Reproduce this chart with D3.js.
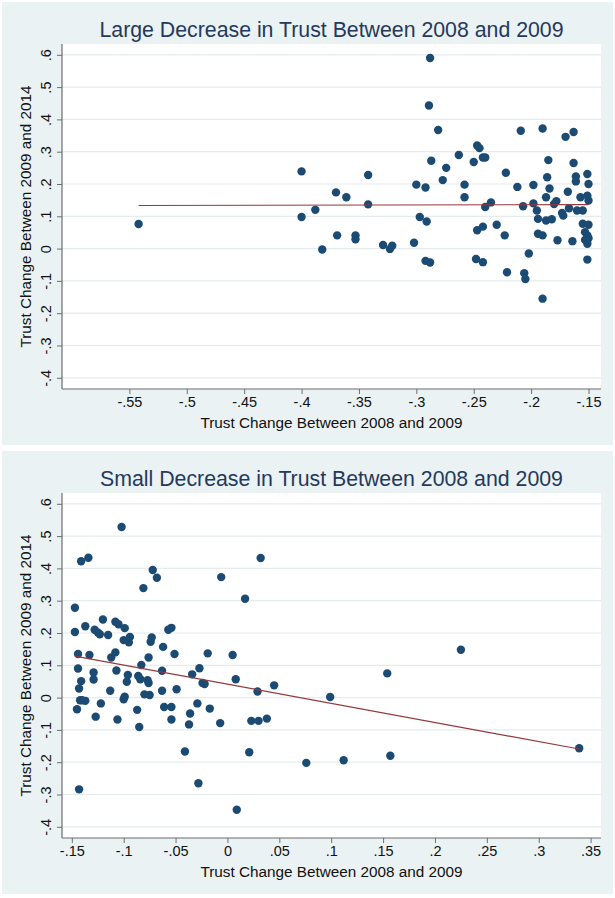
<!DOCTYPE html>
<html>
<head>
<meta charset="utf-8">
<script src="https://cdn.jsdelivr.net/npm/d3@7"></script>
<style>
  html, body { margin: 0; padding: 0; background: #ffffff; }
  svg { display: block; }
  text { font-family: "Liberation Sans", Arial, Helvetica, sans-serif; }
</style>
</head>
<body>
<svg id="chart" width="615" height="898"></svg>
<script>
// ---- data: trust change 2009-2014 against trust change 2008-2009 ----
const largeX = [-0.542,
  -0.400, -0.388, -0.400, -0.370, -0.361, -0.342, -0.342, -0.382, -0.369, -0.353, -0.353, -0.329, -0.323,
  -0.288, -0.289, -0.281, -0.247, -0.245, -0.263, -0.287, -0.250, -0.242, -0.240, -0.274, -0.277, -0.300,
  -0.292, -0.258, -0.258, -0.240, -0.235, -0.297, -0.291, -0.247, -0.242, -0.230, -0.321, -0.302, -0.292,
  -0.288, -0.248, -0.242,
  -0.209, -0.190, -0.170, -0.163, -0.185, -0.163, -0.222, -0.151, -0.186, -0.161, -0.161, -0.150, -0.212,
  -0.198, -0.184, -0.168, -0.187, -0.157, -0.151, -0.178, -0.180, -0.198, -0.207, -0.150, -0.195, -0.167,
  -0.160, -0.155, -0.173, -0.172, -0.194, -0.187, -0.182, -0.155, -0.150, -0.223, -0.194, -0.190, -0.177,
  -0.164, -0.153, -0.151, -0.153, -0.150, -0.151, -0.202, -0.221, -0.206, -0.205, -0.151, -0.190];
const largeY = [0.076,
  0.239, 0.120, 0.098, 0.174, 0.159, 0.228, 0.137, -0.003, 0.041, 0.041, 0.029, 0.011, -0.001,
  0.590, 0.443, 0.367, 0.319, 0.311, 0.290, 0.272, 0.268, 0.282, 0.282, 0.250, 0.212, 0.198,
  0.189, 0.198, 0.159, 0.129, 0.143, 0.098, 0.084, 0.057, 0.068, 0.074, 0.009, 0.018, -0.038,
  -0.043, -0.032, -0.042,
  0.365, 0.372, 0.346, 0.361, 0.274, 0.265, 0.235, 0.231, 0.221, 0.223, 0.208, 0.200, 0.191,
  0.197, 0.186, 0.176, 0.159, 0.159, 0.164, 0.147, 0.138, 0.140, 0.131, 0.149, 0.118, 0.125,
  0.118, 0.118, 0.110, 0.102, 0.092, 0.087, 0.091, 0.077, 0.074, 0.041, 0.046, 0.041, 0.026,
  0.023, 0.051, 0.041, 0.027, 0.032, 0.015, -0.015, -0.073, -0.076, -0.094, -0.034, -0.155];

const smallX = [-0.102, -0.141, -0.134, -0.072, -0.068, -0.081, -0.147, -0.147, -0.137, -0.120, -0.128,
  -0.123, -0.115, -0.108, -0.105, -0.099, -0.100, -0.094, -0.095, -0.125, -0.073, -0.074, -0.057, -0.054,
  -0.144, -0.133, -0.108, -0.112, -0.062, -0.076, -0.051, -0.144, -0.083, -0.107, -0.063, -0.129, -0.141,
  -0.129, -0.096, -0.097, -0.086, -0.084, -0.077, -0.076, -0.143, -0.113, -0.080, -0.075, -0.063, -0.099,
  -0.100, -0.142, -0.137, -0.140, -0.145, -0.122, -0.127, -0.106, -0.087, -0.085, -0.061, -0.054, -0.054,
  -0.143,
  0.032, -0.006, 0.017, -0.019, 0.005, -0.027, -0.034, 0.008, -0.024, -0.022, 0.029, 0.045, -0.049,
  -0.029, -0.036, -0.037, -0.017, -0.007, 0.023, 0.030, 0.038, -0.041, 0.021, -0.028, 0.009,
  0.099, 0.154, 0.225, 0.339, 0.076, 0.112, 0.157];
const smallY = [0.528, 0.422, 0.433, 0.395, 0.371, 0.339, 0.278, 0.203, 0.221, 0.242, 0.210,
  0.196, 0.194, 0.235, 0.227, 0.215, 0.178, 0.188, 0.171, 0.202, 0.186, 0.173, 0.210, 0.216,
  0.135, 0.132, 0.140, 0.124, 0.157, 0.124, 0.135, 0.090, 0.101, 0.084, 0.083, 0.078, 0.051,
  0.056, 0.070, 0.049, 0.067, 0.057, 0.054, 0.045, 0.028, 0.021, 0.010, 0.008, 0.021, 0.003,
  -0.005, -0.008, -0.010, -0.008, -0.036, -0.018, -0.059, -0.068, -0.038, -0.091, -0.029, -0.029, -0.068,
  -0.284,
  0.432, 0.373, 0.306, 0.137, 0.132, 0.091, 0.072, 0.057, 0.045, 0.042, 0.019, 0.038, 0.026,
  -0.018, -0.049, -0.083, -0.034, -0.079, -0.072, -0.072, -0.065, -0.167, -0.169, -0.265, -0.347,
  0.002, 0.075, 0.148, -0.157, -0.202, -0.194, -0.180];

// ---- axis ticks ----
const yTicks = [0.6, 0.5, 0.4, 0.3, 0.2, 0.1, 0, -0.1, -0.2, -0.3, -0.4];
const largeXTicks = [-0.55, -0.5, -0.45, -0.4, -0.35, -0.3, -0.25, -0.2, -0.15];
const smallXTicks = [-0.15, -0.1, -0.05, 0, 0.05, 0.1, 0.15, 0.2, 0.25, 0.3, 0.35];

const titles = ["Large Decrease in Trust Between 2008 and 2009",
                "Small Decrease in Trust Between 2008 and 2009"];
const xTitle = "Trust Change Between 2008 and 2009";
const yTitle = "Trust Change Between 2009 and 2014";

// ---- styling ----
const BG = "#eaf2f3", GRID = "#e4eced", AXIS = "#6d6d6d";
const MARKER = "#1b4b73", FIT = "#94383d", TITLE = "#25395c";
const PANEL_H = 449;
const plot = { left: 62, right: 601, top: 44, bottom: 389 };

// Stata-style labels: plain hyphen, no leading zero (".5", "-.25")
const fmt = d => d === 0 ? "0" : String(+d.toFixed(2)).replace(/^(-?)0\./, "$1.");

function ols(xs, ys) {
  const mx = d3.mean(xs), my = d3.mean(ys);
  let sxy = 0, sxx = 0;
  xs.forEach((x, i) => { sxy += (x - mx) * (ys[i] - my); sxx += (x - mx) * (x - mx); });
  const b = sxy / sxx;
  return { a: my - b * mx, b };
}

const svg = d3.select("#chart");

function drawPanel(index, xs, ys, xTicks, xRange) {
  const g = svg.append("g").attr("transform", `translate(0,${index * PANEL_H})`);

  g.append("rect").attr("x", 2).attr("y", 2).attr("width", 611).attr("height", 443).attr("fill", BG);
  g.append("rect").attr("x", plot.left).attr("y", plot.top)
    .attr("width", plot.right - plot.left).attr("height", plot.bottom - plot.top).attr("fill", "#ffffff");

  const x = d3.scaleLinear().domain([xTicks[0], xTicks[xTicks.length - 1]]).range(xRange);
  const y = d3.scaleLinear().domain([-0.4, 0.6]).range([377.8, 54.8]);

  // horizontal gridlines
  g.append("g").selectAll("line").data(yTicks).join("line")
    .attr("x1", plot.left).attr("x2", plot.right)
    .attr("y1", d => y(d)).attr("y2", d => y(d))
    .attr("stroke", GRID).attr("stroke-width", 1.2);

  // y axis
  const ya = g.append("g").attr("transform", `translate(${plot.left},0)`)
    .call(d3.axisLeft(y).tickValues(yTicks).tickFormat(fmt).tickSize(5).tickSizeOuter(0));
  ya.select(".domain").remove();
  ya.selectAll(".tick line").attr("stroke", AXIS);
  ya.selectAll(".tick text")
    .attr("x", null).attr("dy", null)
    .attr("transform", "translate(-11,0) rotate(-90)")
    .attr("text-anchor", "middle")
    .attr("font-size", 14.5).attr("fill", "#111");

  // x axis
  const xa = g.append("g").attr("transform", `translate(0,${plot.bottom})`)
    .call(d3.axisBottom(x).tickValues(xTicks).tickFormat(fmt).tickSize(5).tickSizeOuter(0));
  xa.select(".domain").remove();
  xa.selectAll(".tick line").attr("stroke", AXIS);
  xa.selectAll(".tick text").attr("y", 8).attr("dy", "0.71em")
    .attr("font-size", 14.5).attr("fill", "#111");

  // axis lines spanning the plot region
  g.append("line").attr("x1", plot.left).attr("x2", plot.left)
    .attr("y1", plot.top).attr("y2", plot.bottom).attr("stroke", AXIS).attr("stroke-width", 1.2);
  g.append("line").attr("x1", plot.left).attr("x2", plot.right)
    .attr("y1", plot.bottom).attr("y2", plot.bottom).attr("stroke", AXIS).attr("stroke-width", 1.2);

  // points
  const pts = xs.map((v, i) => [v, ys[i]]);
  g.append("g").selectAll("circle").data(pts).join("circle")
    .attr("cx", d => x(d[0])).attr("cy", d => y(d[1])).attr("r", 4.2)
    .attr("fill", MARKER);

  // linear fit over the data range
  const fit = ols(xs, ys);
  const [x0, x1] = d3.extent(xs);
  g.append("line")
    .attr("x1", x(x0)).attr("y1", y(fit.a + fit.b * x0))
    .attr("x2", x(x1)).attr("y2", y(fit.a + fit.b * x1))
    .attr("stroke", FIT).attr("stroke-width", 1.2);

  // titles
  const cx = (plot.left + plot.right) / 2;
  g.append("text").attr("x", cx).attr("y", 37).attr("text-anchor", "middle")
    .attr("font-size", 21.3).attr("fill", TITLE).text(titles[index]);
  g.append("text").attr("x", cx).attr("y", 428).attr("text-anchor", "middle")
    .attr("font-size", 15.3).attr("fill", "#111").text(xTitle);
  g.append("text").attr("transform", `translate(31,${(plot.top + plot.bottom) / 2}) rotate(-90)`)
    .attr("text-anchor", "middle").attr("font-size", 15.3).attr("fill", "#111").text(yTitle);
}

drawPanel(0, largeX, largeY, largeXTicks, [129.4, 588.5]);
drawPanel(1, smallX, smallY, smallXTicks, [71.8, 590.6]);
</script>
</body>
</html>
